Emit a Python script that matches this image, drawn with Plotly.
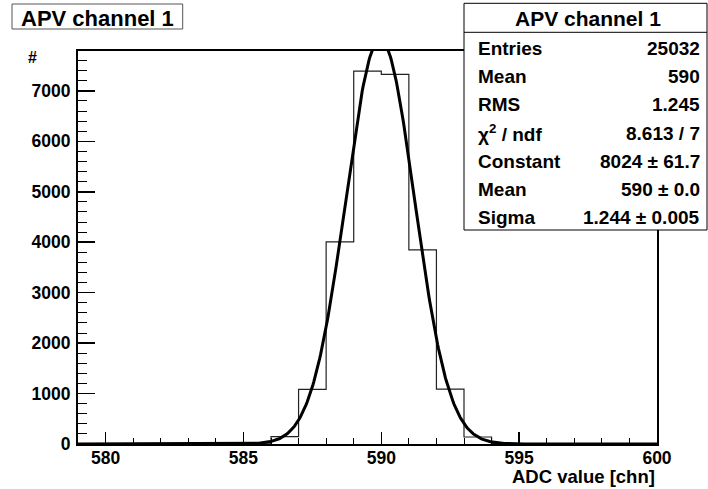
import numpy as np
import plotly.graph_objects as go

# ---------------- data ----------------
bin_low_edges = list(range(579, 600))          # 1-channel bins, 579 .. 599
bin_counts = [0, 0, 0, 0, 0, 0, 5, 145, 1081, 4005, 7390, 7325,
              3847, 1089, 139, 6, 0, 0, 0, 0, 0]
bin_width = 1

fit_constant = 8024.0
fit_mean = 589.96
fit_sigma = 1.244

x_tick_vals = [580, 585, 590, 595, 600]
x_tick_text = ["580", "585", "590", "595", "600"]
y_tick_vals = [0, 1000, 2000, 3000, 4000, 5000, 6000, 7000]
y_tick_text = ["0", "1000", "2000", "3000", "4000", "5000", "6000", "7000"]

title_text = "APV channel 1"
x_title = "ADC value [chn]"
y_title = "#"
stats_labels = ["Entries", "Mean", "RMS", "χ<sup>2</sup> / ndf",
                "Constant", "Mean", "Sigma"]
stats_values = ["25032", "590", "1.245", "8.613 / 7",
                "8024 ± 61.7", "590 ± 0.0", "1.244 ± 0.005"]

# ---------------- geometry helpers ----------------
W, H = 708, 489
L, R, T, B = 78, 657, 51, 444


def px(x):
    return (x - L) / (R - L)


def py(y):
    return (B - y) / (B - T)


# histogram outline (step)
hx = list(bin_low_edges) + [bin_low_edges[-1] + bin_width]
hy = list(bin_counts) + [bin_counts[-1]]

# fitted gaussian from the fit parameters
fx = np.linspace(579, 600, 600)
fy = fit_constant * np.exp(-0.5 * ((fx - fit_mean) / fit_sigma) ** 2)

FONT = "Liberation Sans, Arial, Helvetica, sans-serif"

fig = go.Figure()
fig.add_trace(go.Scatter(x=hx, y=hy, mode="lines", line_shape="hv",
                         line=dict(color="#222222", width=1.2),
                         hoverinfo="skip", showlegend=False))
fig.add_trace(go.Scatter(x=fx, y=fy, mode="lines",
                         line=dict(color="black", width=3),
                         hoverinfo="skip", showlegend=False))

axis_common = dict(showline=True, linecolor="black", linewidth=2, mirror=True,
                   showgrid=False, zeroline=False, ticks="inside",
                   tickcolor="black", tickwidth=1.5,
                   tickfont=dict(family=FONT, size=17.5, color="black",
                                 weight="bold"))

fig.update_layout(
    width=W, height=H,
    margin=dict(l=L, r=W - R, t=T, b=H - B, pad=0),
    paper_bgcolor="white", plot_bgcolor="white",
    showlegend=False,
    xaxis=dict(range=[579, 600], tickmode="array", tickvals=x_tick_vals,
               ticktext=["<b>%s</b>" % t for t in x_tick_text],
               ticklen=12, ticklabelstandoff=-3,
               minor=dict(tickmode="linear", tick0=579, dtick=1, ticklen=6,
                          ticks="inside", tickcolor="black", tickwidth=1,
                          showgrid=False),
               **axis_common),
    yaxis=dict(range=[0, 7790], tickmode="array", tickvals=y_tick_vals,
               ticktext=["<b>%s</b>" % t for t in y_tick_text],
               ticklen=17, ticklabelstandoff=2,
               minor=dict(tickmode="linear", tick0=0, dtick=200, ticklen=9,
                          ticks="inside", tickcolor="black", tickwidth=1,
                          showgrid=False),
               **axis_common),
)

shapes = []
annotations = []

# title box
shapes.append(dict(type="rect", xref="paper", yref="paper",
                   x0=px(12), x1=px(182.7), y0=py(29), y1=py(4),
                   line=dict(color="#555555", width=1), fillcolor="white",
                   layer="above"))
annotations.append(dict(xref="paper", yref="paper", x=px(97), y=py(18.5),
                        text=title_text, showarrow=False,
                        xanchor="center", yanchor="middle",
                        font=dict(family=FONT, size=22, color="black",
                                  weight="bold")))

# stats box
shapes.append(dict(type="rect", xref="paper", yref="paper",
                   x0=px(464), x1=px(707), y0=py(230), y1=py(3.3),
                   line=dict(color="black", width=1), fillcolor="white",
                   layer="above"))
shapes.append(dict(type="line", xref="paper", yref="paper",
                   x0=px(464), x1=px(707), y0=py(32.3), y1=py(32.3),
                   line=dict(color="black", width=1), layer="above"))
annotations.append(dict(xref="paper", yref="paper", x=px(588), y=py(19),
                        text=title_text, showarrow=False,
                        xanchor="center", yanchor="middle",
                        font=dict(family=FONT, size=21, color="black",
                                  weight="bold")))
for i, (lab, val) in enumerate(zip(stats_labels, stats_values)):
    yy = 48.8 + 28.07 * i
    annotations.append(dict(xref="paper", yref="paper", x=px(476), y=py(yy),
                            text=lab, showarrow=False,
                            xanchor="left", yanchor="middle",
                            font=dict(family=FONT, size=19, color="black",
                                      weight="bold")))
    annotations.append(dict(xref="paper", yref="paper", x=px(702), y=py(yy),
                            text=val, showarrow=False,
                            xanchor="right", yanchor="middle",
                            font=dict(family=FONT, size=19, color="black",
                                      weight="bold")))

# axis titles
annotations.append(dict(xref="paper", yref="paper", x=px(657), y=py(476.5),
                        text=x_title, showarrow=False,
                        xanchor="right", yanchor="middle",
                        font=dict(family=FONT, size=18.5, color="black",
                                  weight="bold")))
annotations.append(dict(xref="paper", yref="paper", x=px(32), y=py(57),
                        text=y_title, showarrow=False,
                        xanchor="center", yanchor="middle",
                        font=dict(family=FONT, size=16, color="black",
                                  weight="bold")))

fig.update_layout(shapes=shapes, annotations=annotations)
fig.write_html("out.html",
               config={"displayModeBar": False, "staticPlot": True},
               post_script="document.body.style.margin='0';"
                           "document.body.style.overflow='hidden';")
